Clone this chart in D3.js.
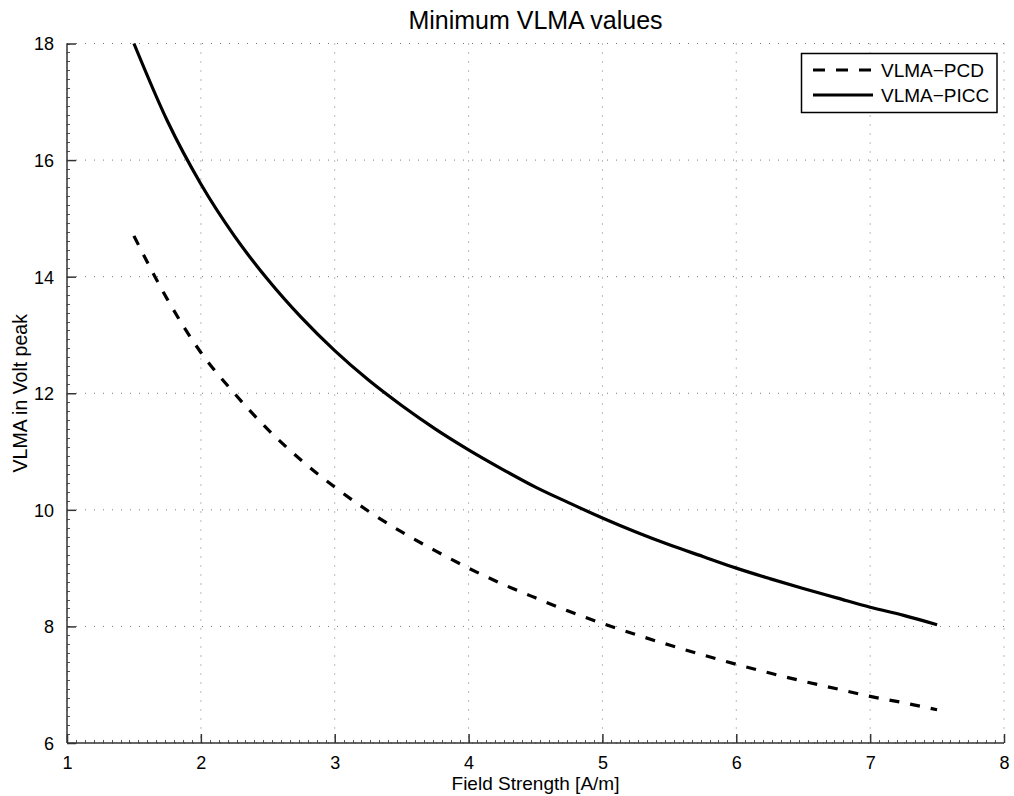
<!DOCTYPE html>
<html>
<head>
<meta charset="utf-8">
<script src="https://cdn.jsdelivr.net/npm/d3@7"></script>
<style>
  html, body { margin: 0; padding: 0; background: #fff; }
  svg { display: block; }
  text { font-family: "Liberation Sans", Arial, Helvetica, sans-serif; fill: #000; }
</style>
</head>
<body>
<svg id="chart" width="1014" height="796"></svg>
<script>
// ---- data ----
const fieldStrength = [1.5, 1.75, 2, 2.25, 2.5, 2.75, 3, 3.25, 3.5, 3.75, 4, 4.25, 4.5,
                       4.75, 5, 5.25, 5.5, 5.75, 6, 6.25, 6.5, 6.75, 7, 7.25, 7.5];
const vlmaPICC = [18.00, 16.67, 15.59, 14.70, 13.95, 13.30, 12.73, 12.23, 11.79, 11.39, 11.03, 10.70, 10.39,
                  10.12, 9.86, 9.62, 9.40, 9.20, 9.00, 8.82, 8.65, 8.49, 8.33, 8.19, 8.03];
const vlmaPCD  = [14.70, 13.61, 12.70, 12.00, 11.38, 10.85, 10.39, 9.98, 9.62, 9.30, 9.00, 8.73, 8.49,
                  8.26, 8.05, 7.86, 7.68, 7.51, 7.35, 7.20, 7.06, 6.93, 6.80, 6.69, 6.57];
const xTicks = [1, 2, 3, 4, 5, 6, 7, 8];
const yTicks = [6, 8, 10, 12, 14, 16, 18];
const seriesNames = ["VLMA\u2212PCD", "VLMA\u2212PICC"];
const titleText = "Minimum VLMA values";
const xLabelText = "Field Strength [A/m]";
const yLabelText = "VLMA in Volt peak";

// ---- layout ----
const svg = d3.select("#chart");
const pL = 67, pR = 1004, pT = 43.5, pB = 743;
const x = d3.scaleLinear().domain([1, 8]).range([pL, pR]);
const y = d3.scaleLinear().domain([6, 18]).range([pB, pT]);
const axisColor = "#333";
const gridColor = "#777";

// grid (dotted)
const grid = svg.append("g");
grid.selectAll("line.gx").data(xTicks).join("line")
  .attr("x1", d => x(d)).attr("x2", d => x(d))
  .attr("y1", pT).attr("y2", pB)
  .attr("stroke", gridColor).attr("stroke-width", 1)
  .attr("stroke-dasharray", "1,8");
grid.selectAll("line.gy").data(yTicks).join("line")
  .attr("x1", pL).attr("x2", pR)
  .attr("y1", d => y(d)).attr("y2", d => y(d))
  .attr("stroke", gridColor).attr("stroke-width", 1)
  .attr("stroke-dasharray", "1,8");

// minor ticks
const xMinor = d3.range(1, 8.0001, 1 / 15);
const yMinor = d3.range(6, 18.0001, 2 / 13);
const minor = svg.append("g").attr("stroke", "#555").attr("stroke-width", 1);
minor.selectAll("line.mx").data(xMinor).join("line")
  .attr("x1", d => Math.round(x(d)) + 0.5).attr("x2", d => Math.round(x(d)) + 0.5)
  .attr("y1", pB).attr("y2", pB - 3);
minor.selectAll("line.my").data(yMinor).join("line")
  .attr("y1", d => Math.round(y(d)) + 0.5).attr("y2", d => Math.round(y(d)) + 0.5)
  .attr("x1", pL).attr("x2", pL + 3);

// axes with inward ticks
const xAxis = d3.axisBottom(x).tickValues(xTicks).tickSize(-9).tickPadding(13).tickFormat(d3.format("d"));
const yAxis = d3.axisLeft(y).tickValues(yTicks).tickSize(-9).tickPadding(13).tickFormat(d3.format("d"));
const gx = svg.append("g").attr("transform", `translate(0,${pB})`).call(xAxis);
const gy = svg.append("g").attr("transform", `translate(${pL},0)`).call(yAxis);
[gx, gy].forEach(g => {
  g.select(".domain").attr("stroke", axisColor).attr("stroke-width", 1.5);
  g.selectAll(".tick line").attr("stroke", axisColor).attr("stroke-width", 1.5);
  g.selectAll(".tick text").attr("font-size", 18).attr("fill", "#000")
    .attr("font-family", "Liberation Sans, Arial, sans-serif");
});
gx.select(".domain").attr("d", `M${pL},0H${pR}`);
gy.select(".domain").attr("d", `M0,${pB}V${pT}`);
gy.selectAll(".tick text").attr("dy", "0.36em");

// lines
const line = d3.line().x(d => x(d[0])).y(d => y(d[1])).curve(d3.curveMonotoneX);
const picc = fieldStrength.map((v, i) => [v, vlmaPICC[i]]);
const pcd = fieldStrength.map((v, i) => [v, vlmaPCD[i]]);
svg.append("path").datum(pcd).attr("d", line)
  .attr("fill", "none").attr("stroke", "#000").attr("stroke-width", 3.2)
  .attr("stroke-dasharray", "10,11");
svg.append("path").datum(picc).attr("d", line)
  .attr("fill", "none").attr("stroke", "#000").attr("stroke-width", 3.2);

// title & labels
svg.append("text").attr("x", (pL + pR) / 2).attr("y", 29)
  .attr("text-anchor", "middle").attr("font-size", 25).text(titleText);
svg.append("text").attr("x", (pL + pR) / 2).attr("y", 790)
  .attr("text-anchor", "middle").attr("font-size", 19).text(xLabelText);
svg.append("text").attr("transform", `translate(27,${(pT + pB) / 2}) rotate(-90)`)
  .attr("text-anchor", "middle").attr("font-size", 19.5).text(yLabelText);

// legend
const lg = svg.append("g");
lg.append("rect").attr("x", 801.5).attr("y", 53.5).attr("width", 195.5).attr("height", 59)
  .attr("fill", "#fff").attr("stroke", "#000").attr("stroke-width", 1.5);
const legendItems = [
  { name: seriesNames[0], dash: "12,11" },
  { name: seriesNames[1], dash: null }
];
legendItems.forEach((it, i) => {
  const yy = 70 + i * 25;
  lg.append("line").attr("x1", 813).attr("x2", 873).attr("y1", yy).attr("y2", yy)
    .attr("stroke", "#000").attr("stroke-width", 3.2)
    .attr("stroke-dasharray", it.dash);
  lg.append("text").attr("x", 881).attr("y", yy).attr("dy", "0.36em")
    .attr("font-size", 19).text(it.name);
});
</script>
</body>
</html>
